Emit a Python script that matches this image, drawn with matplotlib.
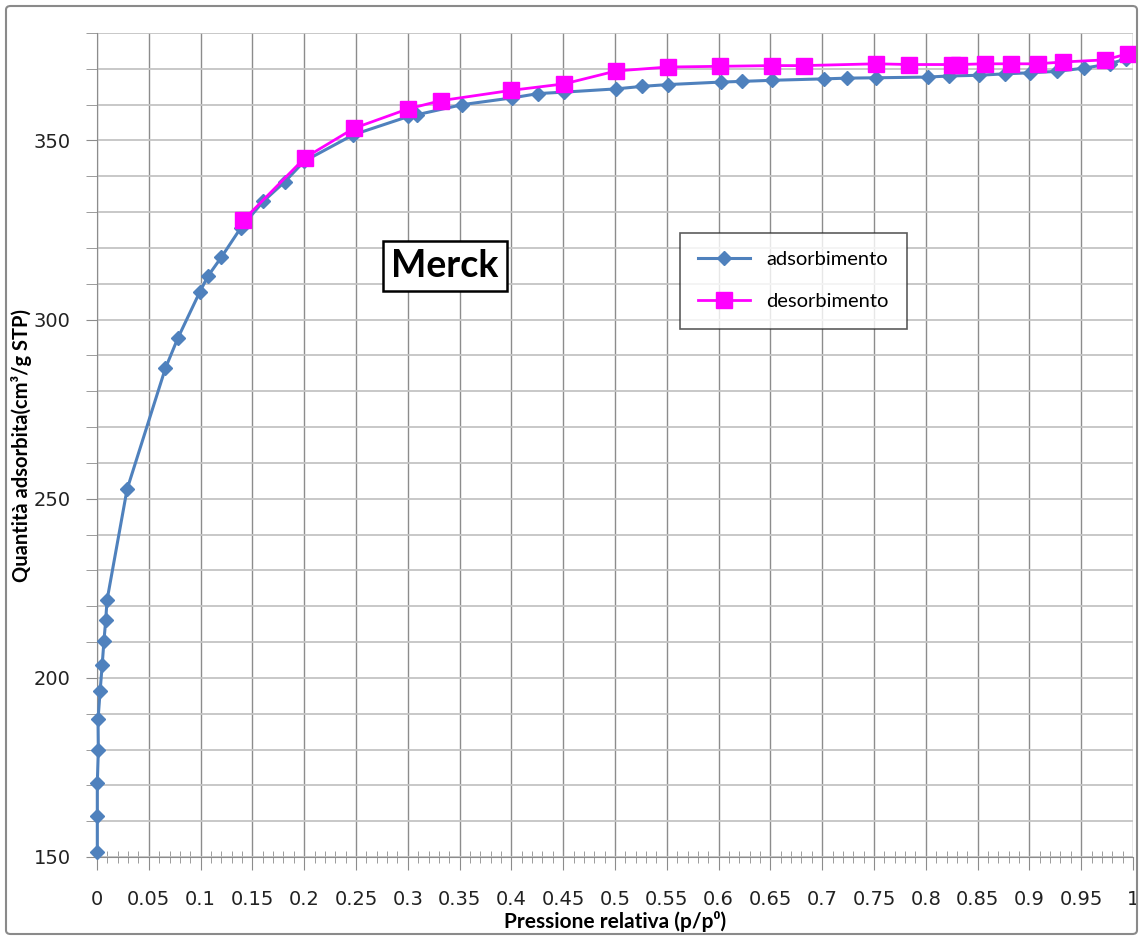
import numpy as np
import matplotlib
matplotlib.use('Agg')
import matplotlib.pyplot as plt
from matplotlib.ticker import MultipleLocator, FuncFormatter
from matplotlib.patches import FancyBboxPatch

plt.rcParams['font.family'] = ['Lato', 'DejaVu Sans']

# adsorption branch
ads_x = [0.0003, 0.0003, 0.0003, 0.0013, 0.001, 0.003, 0.005, 0.0067, 0.0084, 0.0097,
         0.029, 0.066, 0.078, 0.099, 0.107, 0.12, 0.139, 0.1605, 0.181, 0.2, 0.2474,
         0.3006, 0.309, 0.3526, 0.401, 0.426, 0.451, 0.501, 0.526, 0.551, 0.602, 0.623,
         0.652, 0.702, 0.724, 0.752, 0.802, 0.822, 0.851, 0.876, 0.901, 0.927, 0.953,
         0.978, 0.993]
ads_y = [151.5, 161.4, 170.7, 179.8, 188.4, 196.3, 203.6, 210.3, 216.1, 221.7,
         252.6, 286.4, 294.8, 307.6, 312.1, 317.4, 325.7, 333.0, 338.4, 344.2, 351.6,
         356.7, 357.2, 360.0, 361.9, 363.1, 363.5, 364.4, 365.1, 365.6, 366.3, 366.5,
         366.8, 367.2, 367.4, 367.5, 367.7, 368.0, 368.2, 368.6, 368.9, 369.3, 370.2,
         371.4, 372.8]

# desorption branch
des_x = [0.141, 0.2008, 0.248, 0.30, 0.3317, 0.400, 0.451, 0.501, 0.551, 0.601, 0.652,
         0.682, 0.752, 0.784, 0.825, 0.832, 0.857, 0.882, 0.908, 0.932, 0.973, 0.995]
des_y = [327.7, 345.2, 353.4, 358.8, 361.1, 364.0, 365.8, 369.4, 370.5, 370.7, 370.9,
         370.9, 371.4, 371.2, 371.2, 371.2, 371.4, 371.4, 371.4, 371.9, 372.5, 374.2]

fig = plt.figure(figsize=(11.44, 9.4), dpi=100)
ax = fig.add_axes([97 / 1144, 1 - 857 / 940, (1133 - 97) / 1144, (857 - 33) / 940])

# chart area border
fig.patches.append(FancyBboxPatch((6 / 1144, 6 / 940), 1131 / 1144, 928 / 940,
                                  boxstyle='round,pad=0,rounding_size=0.004',
                                  transform=fig.transFigure, fill=False,
                                  edgecolor='#8a8a8a', linewidth=1.5))

ax.set_xlim(0, 1)
ax.set_ylim(150, 380)
ax.xaxis.set_major_locator(MultipleLocator(0.05))
ax.xaxis.set_minor_locator(MultipleLocator(0.01))
ax.yaxis.set_major_locator(MultipleLocator(50))
ax.yaxis.set_minor_locator(MultipleLocator(10))
ax.xaxis.set_major_formatter(FuncFormatter(lambda v, p: '{:g}'.format(round(v, 2))))

ax.grid(True, which='major', axis='x', color='#8c8c8c', linewidth=1.0)
ax.grid(True, which='both', axis='y', color='#c4c4c4', linewidth=1.3)
ax.set_axisbelow(True)

ax.tick_params(axis='x', which='major', direction='out', length=9, color='#8c8c8c',
               labelsize=14, pad=15)
ax.tick_params(axis='x', which='minor', direction='inout', length=8, color='#8c8c8c')
ax.tick_params(axis='y', which='both', direction='out', length=8, color='#8c8c8c',
               labelsize=14, pad=11)
for lab in ax.get_xticklabels() + ax.get_yticklabels():
    lab.set_family('DejaVu Sans')
    lab.set_color('#222222')

for s in ['top', 'right']:
    ax.spines[s].set_visible(False)
for s in ['left', 'bottom']:
    ax.spines[s].set_color('#8c8c8c')

ax.plot(ads_x, ads_y, color='#4F81BD', linewidth=2.2, marker='D', markersize=7,
        label='adsorbimento', clip_on=False, zorder=3)
ax.plot(des_x, des_y, color='#FF00FF', linewidth=2.0, marker='s', markersize=11,
        label='desorbimento', clip_on=False, zorder=4)

ax.set_xlabel('Pressione relativa (p/p⁰)', fontsize=15, fontweight='bold')
ax.set_ylabel('Quantità adsorbita(cm³/g STP)', fontsize=14.5, fontweight='bold')
ax.xaxis.label.set_va('center')
ax.yaxis.label.set_va('center')
ax.xaxis.set_label_coords(0.5, (857 - 921) / 824)
ax.yaxis.set_label_coords((22 - 97) / 1036, 0.5)

ax.text(0.336, 315.0, 'Merck', fontsize=27, fontweight='bold', ha='center', va='center',
        bbox=dict(boxstyle='square,pad=0.22', facecolor='white', edgecolor='black',
                  linewidth=1.8))

leg = ax.legend(loc='upper left', bbox_to_anchor=((680 - 97) / 1036, 1 - (233 - 33) / 824),
                fontsize=14.5, frameon=True, fancybox=False, edgecolor='#333333',
                borderpad=0.9, labelspacing=1.25, handlelength=2.6, borderaxespad=0)
leg.get_frame().set_linewidth(1.2)

fig.savefig('out.png', dpi=100)
